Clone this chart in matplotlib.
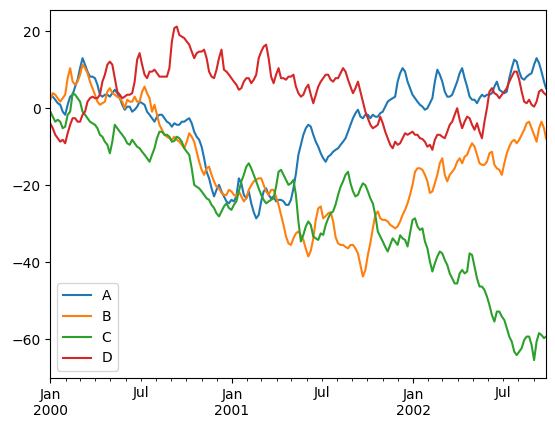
import matplotlib
matplotlib.use("Agg")
import matplotlib.pyplot as plt
import matplotlib.dates as mdates
import matplotlib.ticker as mticker
import pandas as pd

start = "2000-01-01"
end = "2002-09-26"
dates = list(pd.date_range(start, periods=200, freq="5D")) + [pd.Timestamp(end)]

A = [3.5, 3.0, 2.2, 1.3, 0.9, -0.9, -1.7, 0.9, 3.0, 3.5,
     5.6, 7.4, 10.4, 13.0, 11.3, 9.5, 8.2, 8.2, 7.8, 6.1,
     3.5, 3.0, 3.5, 3.5, 3.0, 3.9, 4.8, 3.9, 2.6, 0.9,
     -0.4, 0.4, 0.4, -0.9, -0.4, 0.4, 1.7, 1.3, 0.9, -0.9,
     -1.7, -2.6, -3.5, -2.2, -1.7, -1.7, -2.6, -3.5, -3.9, -4.8,
     -3.9, -4.3, -4.3, -3.5, -3.5, -3.0, -2.6, -3.9, -6.1, -7.4,
     -8.2, -10.0, -13.0, -16.5, -18.2, -20.8, -22.9, -21.2, -19.9, -21.6,
     -22.9, -24.2, -24.7, -23.8, -24.2, -22.9, -18.2, -19.5, -22.5, -23.4,
     -21.6, -24.7, -27.0, -28.6, -27.7, -24.2, -21.6, -20.8, -22.5, -23.4,
     -22.9, -24.2, -23.8, -23.8, -24.2, -25.1, -25.1, -23.8, -20.8, -17.0,
     -12.1, -9.5, -6.9, -5.2, -4.3, -4.8, -6.9, -8.7, -10.0, -11.7,
     -13.0, -13.9, -12.6, -12.1, -11.3, -10.8, -10.4, -9.5, -8.7, -7.8,
     -6.1, -4.3, -2.6, -1.3, -0.4, -2.2, -2.6, -1.7, -1.7, -2.6,
     -1.7, -2.2, -2.2, -1.3, -0.9, 0.4, 1.7, 2.2, 2.6, 3.0,
     6.9, 9.1, 10.4, 9.5, 6.9, 5.2, 3.5, 2.6, 1.7, 0.9,
     0.4, -0.4, 0.0, 1.3, 2.6, 6.9, 10.0, 8.7, 6.9, 4.3,
     3.0, 3.0, 3.5, 5.2, 6.9, 9.1, 10.4, 7.8, 5.6, 3.0,
     2.2, 2.2, 1.3, 2.6, 3.5, 3.0, 3.5, 3.5, 3.9, 5.6,
     6.9, 4.8, 4.3, 3.9, 4.3, 7.8, 10.4, 12.6, 12.1, 9.5,
     7.8, 7.4, 8.2, 8.7, 9.1, 11.3, 13.0, 11.7, 9.5, 6.9,
     5.2]

B = [2.2, 3.9, 3.5, 2.6, 1.7, 2.6, 3.5, 7.8, 10.4, 6.9,
     6.1, 6.9, 8.7, 11.3, 10.4, 9.1, 6.9, 5.2, 3.5, 1.7,
     0.9, 1.3, 1.7, 4.3, 5.2, 3.9, 3.5, 3.0, 2.6, 1.7,
     0.0, 2.2, 1.7, 1.7, 3.0, 1.7, 1.7, 4.3, 5.6, 3.9,
     2.6, -0.9, 0.9, -1.7, -4.3, -5.6, -6.9, -7.4, -7.8, -8.2,
     -7.4, -8.2, -8.7, -9.5, -10.4, -8.7, -6.5, -7.4, -8.7, -11.3,
     -13.9, -16.0, -17.3, -15.6, -15.2, -17.3, -19.0, -20.4, -20.8, -22.0,
     -22.5, -22.5, -21.2, -21.6, -22.5, -22.9, -21.6, -22.9, -24.2, -23.4,
     -21.2, -20.0, -19.0, -18.6, -18.2, -18.2, -19.9, -21.6, -22.5, -21.2,
     -21.2, -23.0, -25.1, -27.7, -30.3, -33.3, -35.1, -35.5, -33.8, -32.5,
     -32.0, -33.0, -34.2, -36.5, -38.5, -37.0, -33.8, -29.0, -26.0, -25.5,
     -28.6, -28.0, -27.3, -27.0, -29.4, -33.5, -35.1, -35.5, -35.5, -36.0,
     -36.4, -35.5, -35.5, -36.4, -37.7, -40.7, -43.7, -42.0, -38.1, -35.0,
     -31.2, -27.7, -26.8, -28.6, -29.0, -29.0, -29.4, -30.3, -30.7, -31.2,
     -30.7, -29.4, -27.7, -26.4, -24.7, -22.5, -19.9, -16.5, -15.6, -15.6,
     -16.0, -17.3, -19.0, -22.0, -21.6, -19.5, -17.3, -14.3, -13.0, -17.3,
     -19.0, -17.3, -16.5, -15.6, -13.9, -13.0, -14.3, -12.6, -12.1, -10.4,
     -9.1, -10.0, -12.1, -14.3, -14.7, -14.7, -13.9, -11.7, -11.3, -14.7,
     -15.6, -16.0, -17.3, -14.3, -11.7, -10.0, -8.7, -8.2, -9.1, -8.2,
     -6.9, -5.6, -3.9, -3.5, -5.2, -6.9, -8.7, -5.2, -3.5, -5.2,
     -7.8]

C = [-0.9, -2.2, -3.5, -3.0, -3.5, -5.2, -4.8, -1.7, -0.9, 3.9,
     3.5, 2.6, 1.7, -0.9, -1.7, -2.6, -3.5, -3.9, -4.3, -5.2,
     -6.9, -7.4, -8.7, -9.5, -11.7, -8.7, -4.3, -5.2, -6.1, -6.9,
     -7.8, -9.1, -9.5, -8.2, -9.1, -10.0, -10.4, -11.3, -12.1, -13.0,
     -13.9, -12.1, -10.4, -7.8, -6.1, -6.1, -6.9, -6.9, -7.4, -8.7,
     -8.5, -7.4, -7.8, -8.7, -10.4, -11.3, -12.1, -15.6, -19.9, -20.4,
     -20.8, -21.6, -22.5, -23.4, -23.8, -25.1, -25.9, -27.3, -28.1, -26.8,
     -25.5, -24.7, -25.9, -26.4, -25.1, -24.2, -21.6, -19.0, -17.3, -15.2,
     -14.3, -15.6, -17.3, -19.0, -20.8, -22.5, -23.8, -24.7, -24.2, -23.8,
     -23.4, -20.4, -16.5, -16.0, -17.3, -18.6, -19.9, -19.5, -18.6, -22.5,
     -29.4, -34.6, -32.9, -30.7, -29.4, -30.3, -33.3, -33.8, -34.2, -32.5,
     -32.9, -30.3, -28.6, -27.3, -26.8, -25.0, -22.5, -20.4, -19.0, -17.3,
     -16.5, -19.5, -21.6, -22.9, -22.5, -20.8, -19.5, -20.0, -21.6, -23.4,
     -24.7, -27.7, -32.0, -33.3, -34.6, -36.0, -37.2, -35.5, -33.8, -34.6,
     -35.5, -33.0, -33.8, -34.2, -35.9, -32.5, -29.0, -28.6, -30.7, -31.6,
     -31.2, -34.6, -36.4, -39.8, -42.4, -40.3, -38.5, -37.2, -37.7, -39.4,
     -40.7, -42.9, -44.2, -45.5, -45.5, -42.9, -42.0, -42.9, -42.4, -37.7,
     -38.1, -41.1, -44.2, -46.3, -46.3, -47.2, -48.9, -51.1, -53.7, -55.4,
     -52.8, -52.8, -54.1, -55.0, -57.1, -59.3, -60.6, -63.2, -64.1, -63.2,
     -62.3, -60.2, -59.3, -59.3, -61.5, -65.4, -60.6, -58.4, -58.9, -59.7,
     -59.3]

D = [-4.0, -5.2, -6.9, -7.8, -8.7, -8.2, -9.1, -6.5, -4.3, -2.6,
     -2.6, -3.5, -3.5, -1.7, -0.9, 1.7, 2.6, 3.0, 2.6, 2.6,
     3.5, 6.9, 8.7, 11.3, 12.1, 11.3, 7.8, 4.3, 3.5, 2.6,
     3.0, 3.5, 3.5, 3.9, 6.9, 12.6, 14.3, 11.3, 8.7, 7.8,
     9.5, 9.5, 10.0, 9.1, 8.2, 8.2, 8.2, 8.2, 10.4, 17.3,
     20.8, 21.2, 19.0, 18.6, 18.2, 17.3, 16.5, 14.7, 13.0, 14.3,
     14.7, 14.7, 15.2, 13.0, 9.5, 8.2, 7.8, 10.0, 13.0, 15.2,
     10.0, 9.5, 8.7, 7.8, 6.9, 6.1, 4.8, 5.2, 6.9, 7.8,
     7.8, 6.5, 7.4, 8.7, 13.0, 14.7, 16.0, 16.5, 13.0, 8.2,
     6.5, 8.7, 10.4, 7.8, 7.8, 7.4, 8.2, 8.2, 8.7, 5.6,
     3.9, 3.0, 3.5, 5.2, 6.1, 3.5, 1.3, 3.5, 5.6, 6.9,
     7.8, 8.7, 8.7, 7.4, 6.9, 7.8, 7.8, 9.1, 10.4, 9.5,
     7.4, 5.6, 3.9, 5.2, 6.9, 4.3, 1.7, -0.9, -2.6, -4.3,
     -5.2, -4.8, -4.3, -2.2, -3.9, -6.1, -7.8, -9.5, -10.4, -8.7,
     -9.5, -9.1, -7.8, -6.5, -6.9, -6.5, -6.1, -6.9, -6.9, -7.8,
     -8.0, -8.7, -10.0, -9.5, -10.8, -8.2, -6.9, -6.9, -7.4, -7.8,
     -6.1, -4.3, -3.5, -1.7, 0.0, -3.0, -5.2, -3.5, -2.2, -2.6,
     -4.3, -5.6, -3.9, -6.1, -7.8, -3.5, 0.0, 4.3, 5.2, 3.9,
     3.5, 2.6, 3.5, 4.3, 5.2, 6.9, 8.2, 9.5, 9.5, 7.4,
     4.3, 1.7, 1.3, 2.2, 0.9, 0.4, 1.7, 4.3, 4.8, 3.9,
     3.5]

series = {"A": A, "B": B, "C": C, "D": D}
colors = ["#1f77b4", "#ff7f0e", "#2ca02c", "#d62728"]

fig = plt.figure(figsize=(5.55, 4.32), dpi=100)
ax = fig.add_axes([50.3 / 555, 1 - 378 / 432, (546 - 50.3) / 555, (378 - 10) / 432])

for (name, vals), c in zip(series.items(), colors):
    ax.plot(dates, vals, color=c, lw=1.5, label=name)

ax.set_xlim(pd.Timestamp(start), pd.Timestamp(end))
ax.set_ylim(-70.05, 25.5)
ax.set_yticks([-60, -40, -20, 0, 20])
ax.yaxis.set_major_formatter(mticker.FuncFormatter(lambda v, p: f"{int(v)}".replace("-", "\u2212")))

ax.xaxis.set_major_locator(mdates.MonthLocator(bymonth=[1]))
ax.xaxis.set_minor_locator(mdates.MonthLocator(bymonth=range(2, 13)))
ax.xaxis.set_major_formatter(mdates.DateFormatter("%b\n%Y"))
ax.xaxis.set_minor_formatter(mticker.FuncFormatter(
    lambda v, p: "Jul" if mdates.num2date(v).month == 7 else ""))
ax.tick_params(axis="x", which="both", labelsize=10)

ax.legend(loc="lower left")

fig.savefig("out.png", dpi=100)
